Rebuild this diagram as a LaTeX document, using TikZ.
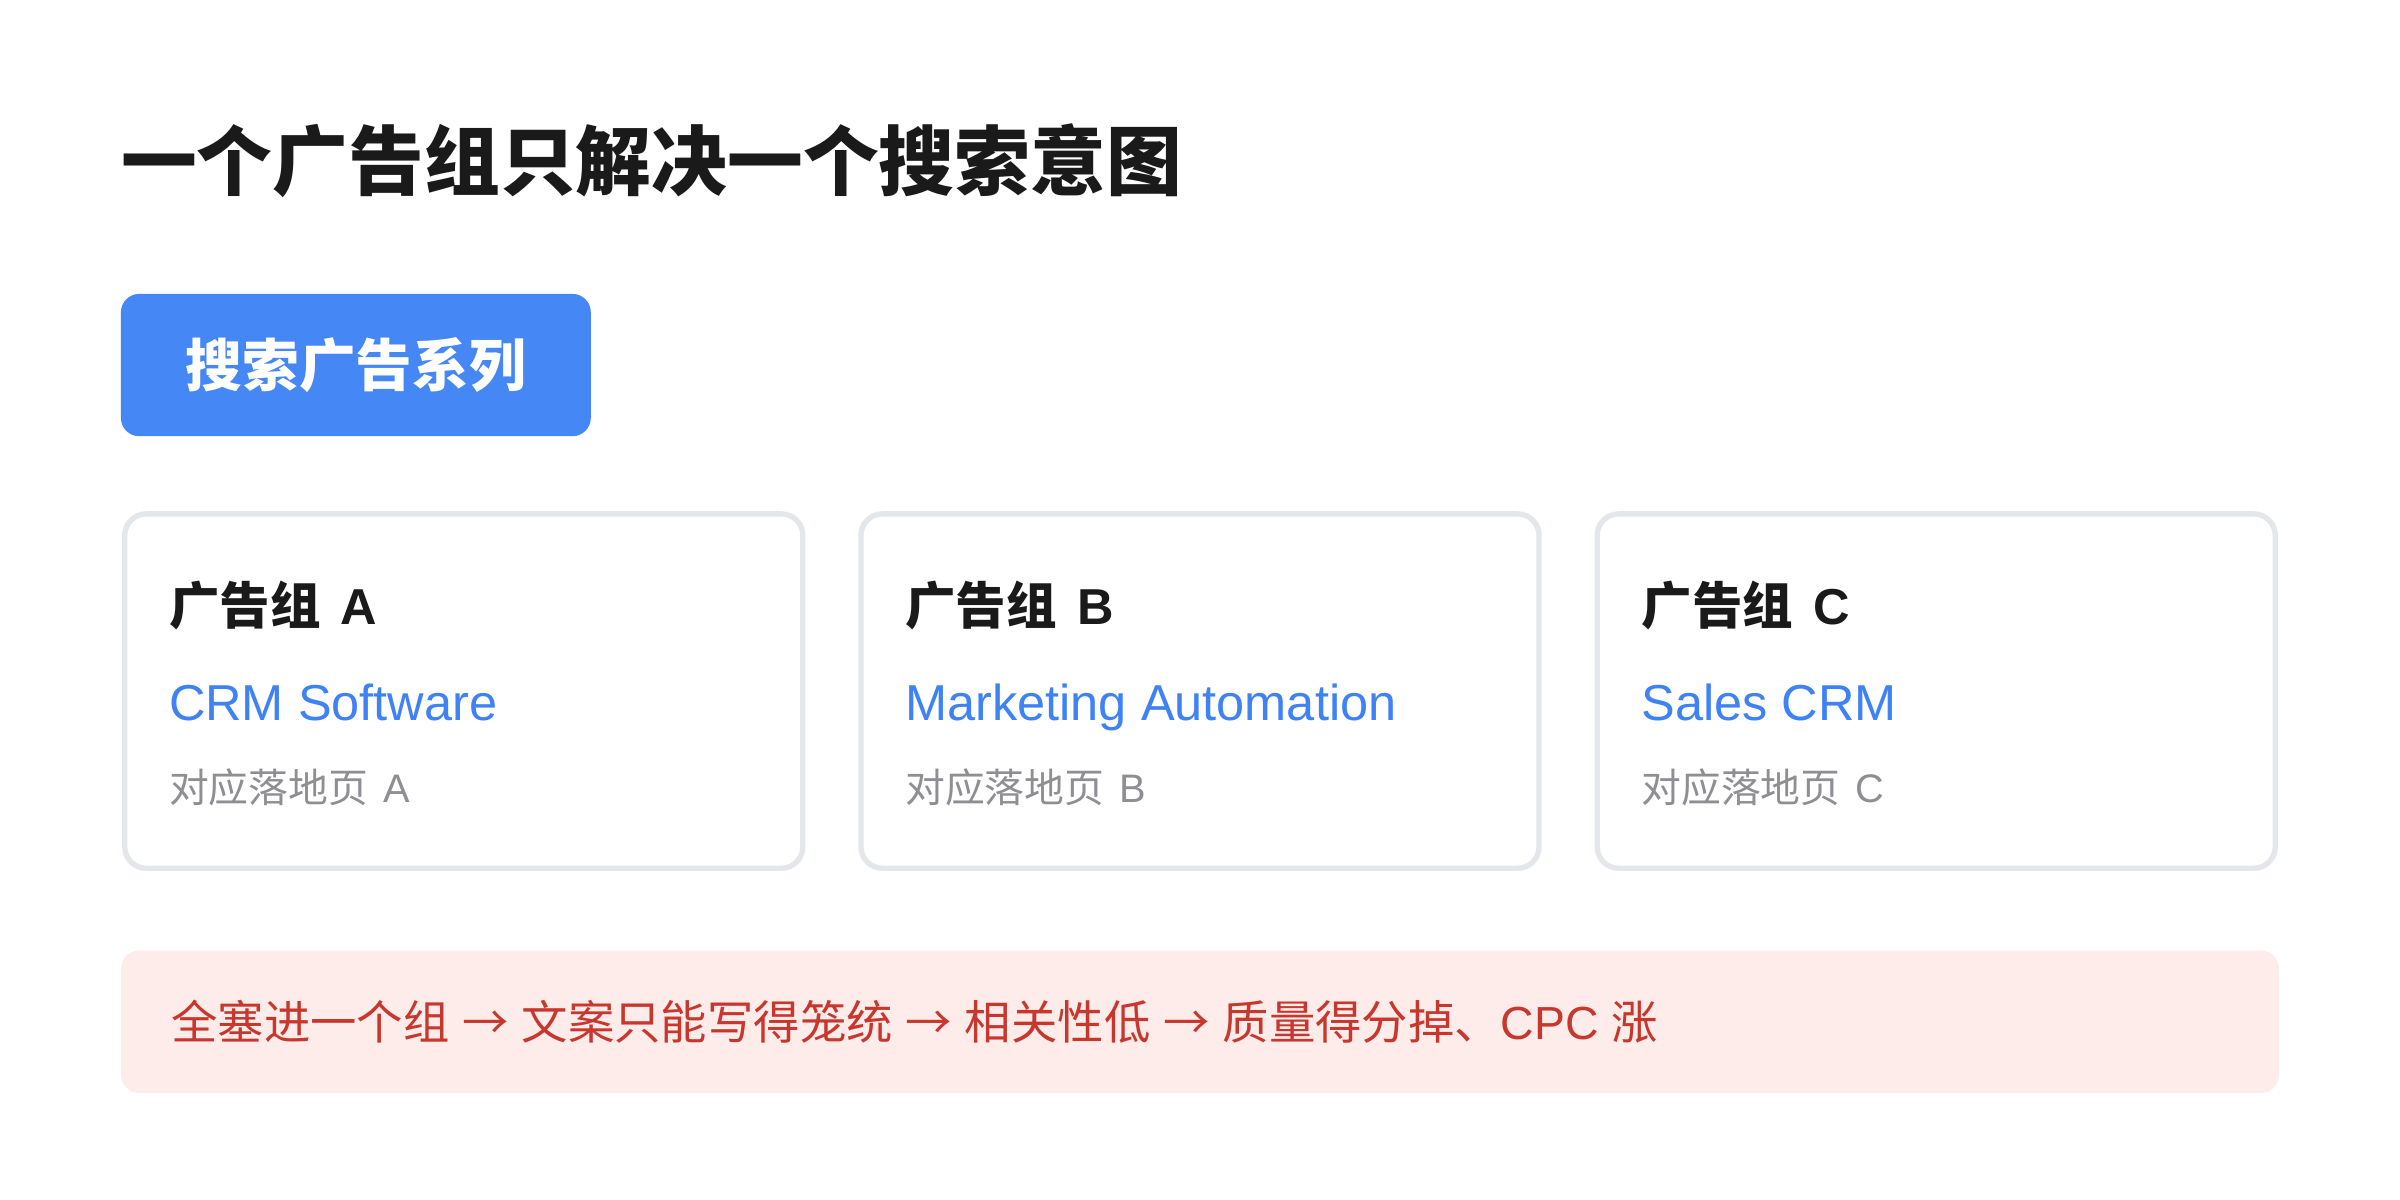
\documentclass[tikz,border=0pt]{standalone}
\usepackage{fontspec}
\setmainfont{Liberation Sans}
\newfontfamily\cjk{Noto Sans CJK SC}
\usetikzlibrary{calc,positioning}
\definecolor{titleink}{HTML}{1A1A1A}
\definecolor{campblue}{HTML}{4487F5}
\definecolor{kwblue}{HTML}{3E82F6}
\definecolor{cardline}{HTML}{E3E6EB}
\definecolor{pageink}{HTML}{8E8E93}
\definecolor{warnfill}{HTML}{FDECEA}
\definecolor{warnink}{HTML}{C8372D}

\begin{document}
\begin{tikzpicture}[x=1pt,y=-1pt,
        card/.style={draw=cardline,line width=3.5pt,rounded corners=14pt,fill=white,
            minimum width=443pt,minimum height=231.5pt,inner sep=0pt},
        grouptitle/.style={anchor=west,inner sep=0pt,text=titleink,font=\fontsize{33}{40}\selectfont\bfseries},
        keyword/.style={anchor=base west,inner sep=0pt,text=kwblue,font=\fontsize{33}{40}\selectfont},
        landing/.style={anchor=west,inner sep=0pt,text=pageink,font=\fontsize{26}{31}\selectfont}
    ]

    % --- Page ---
    \useasboundingbox[fill=white] (0,0) rectangle (1568,784);

    % --- Title ---
    \node[anchor=west,inner sep=0pt,text=titleink,font=\fontsize{49.5}{60}\selectfont\bfseries\cjk]
        (title) at (79,105) {一个广告组只解决一个搜索意图};

    % --- Campaign button ---
    \node[fill=campblue,rounded corners=12pt,minimum width=307pt,minimum height=93pt,inner sep=0pt,
        text=white,font=\fontsize{37}{44}\selectfont\bfseries\cjk]
        (campaign) at (232.5,238.5) {搜索广告系列};

    % --- Ad group cards ---
    \foreach \g/\cx/\kw in {A/303/CRM Software, B/784/Marketing Automation, C/1265/Sales CRM} {
        \node[card] (card\g) at (\cx,451.5) {};
        \node[grouptitle] (title\g) at ($(card\g.north west)+(30.5,61.5)$) {{\cjk 广告组}\hspace{0.4em}\g};
        \node[keyword] (kw\g) at ($(card\g.north west)+(30.5,136.5)$) {\kw};
        \node[landing] (page\g) at ($(card\g.north west)+(30.5,180.5)$) {{\cjk 对应落地页}\hspace{0.38em}\g};
    }

    % --- Warning bar ---
    \node[fill=warnfill,rounded corners=12pt,minimum width=1410pt,minimum height=93pt,inner sep=0pt]
        (warn) at (784,667.5) {};
    \node[anchor=west,inner sep=0pt,text=warnink,font=\fontsize{30.3}{36}\selectfont]
        (warntext) at ($(warn.west)+(33,0)$)
        {{\cjk 全塞进一个组} {\cjk →} {\cjk 文案只能写得笼统} {\cjk →} {\cjk 相关性低} {\cjk →} {\cjk 质量得分掉、}CPC {\cjk 涨}};

\end{tikzpicture}
\end{document}
